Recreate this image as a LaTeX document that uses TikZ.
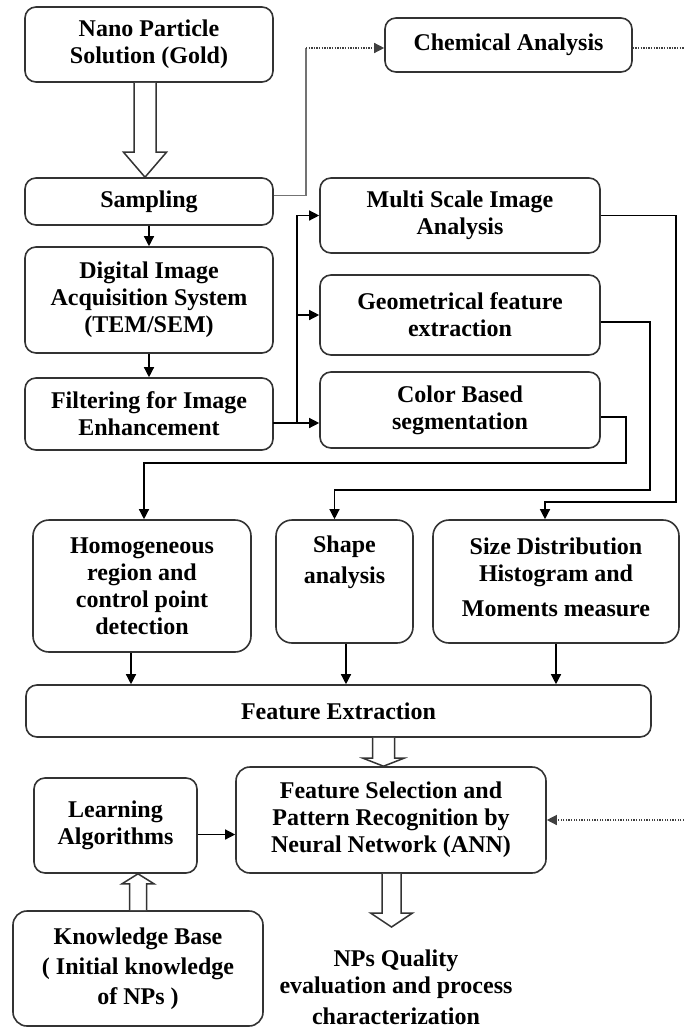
\documentclass[tikz,border=0pt]{standalone}
\usepackage{fontspec}
\setmainfont{Liberation Serif}
\usetikzlibrary{arrows.meta,calc}
\newcommand\fatdown[5]{\draw[fat] let \p1=(#1), \p2=(#2) in (\x1-#3pt,\y1) -- (\x1-#3pt,\y2+#5pt) -- (\x1-#4pt,\y2+#5pt) -- (\x1,\y2) -- (\x1+#4pt,\y2+#5pt) -- (\x1+#3pt,\y2+#5pt) -- (\x1+#3pt,\y1);}
\newcommand\fatup[5]{\draw[fat] let \p1=(#1), \p2=(#2) in (\x1-#3pt,\y1) -- (\x1-#3pt,\y2-#5pt) -- (\x1-#4pt,\y2-#5pt) -- (\x1,\y2) -- (\x1+#4pt,\y2-#5pt) -- (\x1+#3pt,\y2-#5pt) -- (\x1+#3pt,\y1);}
\begin{document}
\begin{tikzpicture}[x=1pt,y=-1pt,
  box/.style={draw=black!80,line width=1.6pt,rounded corners=11pt,inner sep=0pt,align=center,
    font=\fontsize{24}{27}\selectfont\bfseries},
  bigbox/.style={box,rounded corners=16pt},
  txt/.style={inner sep=0pt,align=center,font=\fontsize{24}{27}\selectfont\bfseries},
  conn/.style={line width=1.3pt,draw=black,-{Triangle[length=10pt,width=10pt]}},
  plain/.style={line width=1.3pt,draw=black},
  dots/.style={line width=1.3pt,draw=black!75,dash pattern=on 1.3pt off 1.3pt},
  fat/.style={draw=black!80,line width=1.5pt,fill=white,line join=miter}]
\fill[white] (0,0) rectangle (684,1028);
\path[use as bounding box] (0,0) rectangle (684,1028);

% left column
\node[box,minimum width=248pt,minimum height=75pt] (nano) at (149,44.5) {Nano Particle\\Solution (Gold)};
\node[box,minimum width=248pt,minimum height=47pt] (samp) at (149,201.5) {Sampling};
\node[box,minimum width=248pt,minimum height=106pt] (dig) at (149,300) {Digital Image\\Acquisition System\\(TEM/SEM)};
\node[box,minimum width=248pt,minimum height=72pt] (filt) at (149,414) {Filtering for Image\\Enhancement};

% right column
\node[box,minimum width=247pt,minimum height=54pt] (chem) at (508.5,45) {Chemical Analysis};
\node[box,minimum width=280pt,minimum height=75pt] (multi) at (460,215.5) {Multi Scale Image\\Analysis};
\node[box,minimum width=280pt,minimum height=80pt] (geo) at (460,315) {Geometrical feature\\extraction};
\node[box,minimum width=280pt,minimum height=76pt] (color) at (460,410) {Color Based\\segmentation};

% middle row
\node[bigbox,minimum width=218pt,minimum height=132pt] (homo) at (142,586) {Homogeneous\\region and\\control point\\detection};
\node[bigbox,minimum width=137pt,minimum height=123pt] (shape) at (344.5,581.5) {};
\node[txt] (shapet) at (344.5,562.5) {Shape\\[4pt]analysis};
\node[bigbox,minimum width=246pt,minimum height=123pt] (size) at (556,581.5) {};
\node[txt] (sizet) at (556,577) {Size Distribution\\Histogram and\\[8pt]Moments measure};

\node[box,minimum width=625pt,minimum height=52pt] (fe) at (338.5,711) {Feature Extraction};

% bottom
\node[box,minimum width=163pt,minimum height=95pt] (learn) at (115.5,825.5) {Learning\\Algorithms};
\node[box,rounded corners=14pt,minimum width=310pt,minimum height=106pt] (ann) at (391,820) {Feature Selection and\\Pattern Recognition by\\Neural Network (ANN)};
\node[box,rounded corners=14pt,minimum width=250pt,minimum height=115pt,font=\fontsize{24}{30}\selectfont\bfseries] (know) at (138,968.5) {Knowledge Base\\( Initial knowledge\\of NPs )};
\node[txt] (nps) at (396,987) {NPs Quality\\evaluation and process\\[4pt]characterization};

% free ends and junctions
\coordinate (c1) at (306,48);
\coordinate (chemout) at (684,48);
\coordinate (annin) at (684,820);
\coordinate (fo) at (273,423);
\coordinate (bj) at (297,423);
\coordinate (r1) at (626,463);
\coordinate (r2) at (650,490);
\coordinate (r3) at (676,502);
\coordinate (annout) at (391.5,927);

% hollow arrows
\fatdown{$(nano.south)+(-4,0)$}{samp.north}{11}{21.5}{25}
\fatdown{$(fe.south -| ann.north)+(-7.5,0)$}{ann.north}{11}{20.5}{8}
\fatdown{$(ann.south)+(0.5,0)$}{annout}{9.5}{21}{14}
\fatup{know.north}{learn.south}{8.5}{16}{10}

% connectors
\draw[line width=1.3pt,draw=black!55] ([yshift=6pt]samp.east) -| (c1);
\draw[dots,-{Triangle[length=10pt,width=10pt]}] (c1) -- (c1 -| chem.west);
\draw[dots] (chem.east |- chemout) -- (chemout);
\draw[dots,-{Triangle[length=10pt,width=10pt]}] (annin) -- (ann.east);

\draw[conn] (samp.south) -- (dig.north);
\draw[conn] (dig.south) -- (filt.north);

\draw[conn] (fo) -- (fo -| color.west);
\draw[conn] (bj) |- (multi.west);
\draw[conn] (bj |- geo.west) -- (geo.west);

\draw[conn] ([yshift=-7pt]color.east) -| (r1) -| ([xshift=2pt]homo.north);
\draw[conn] ([yshift=-7pt]geo.east) -| (r2) -| ([xshift=-10pt]shape.north);
\draw[conn] (multi.east) -| (r3) -| ([xshift=-11pt]size.north);

\coordinate (h1) at ([xshift=-11pt]homo.south);
\draw[conn] (h1) -- (h1 |- fe.north);
\coordinate (s1) at ([xshift=1.5pt]shape.south);
\draw[conn] (s1) -- (s1 |- fe.north);
\draw[conn] (size.south) -- (size.south |- fe.north);

\coordinate (l1) at ([yshift=-9pt]learn.east);
\draw[conn] (l1) -- (l1 -| ann.west);
\end{tikzpicture}
\end{document}
